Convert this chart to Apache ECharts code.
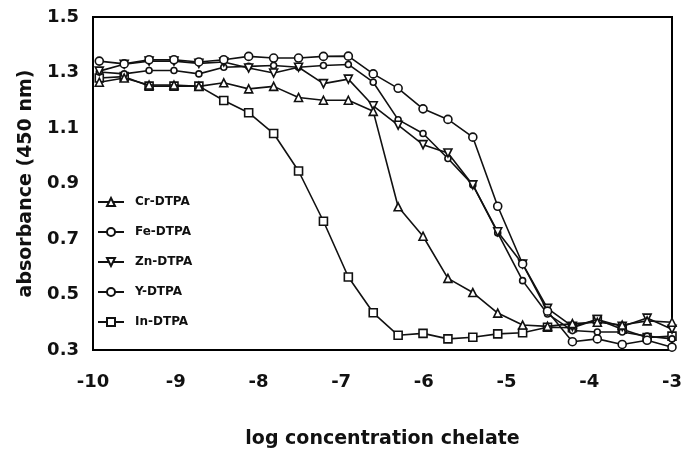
<!DOCTYPE html>
<html>
<head>
<meta charset="utf-8">
<script src="https://cdn.jsdelivr.net/npm/echarts@6/dist/echarts.min.js"></script>
<style>
html,body{margin:0;padding:0;background:#fff;}
#chart{width:683px;height:451px;}
</style>
</head>
<body>
<div id="chart"></div>
<script>
// log concentration (two-fold dilutions from 1 mM)
var logConc = [-9.924, -9.623, -9.322, -9.021, -8.720, -8.419, -8.118, -7.816, -7.515, -7.214, -6.913, -6.612, -6.311, -6.010, -5.709, -5.408, -5.107, -4.806, -4.505, -4.204, -3.903, -3.602, -3.301, -3.000];
var crDTPA = [1.265, 1.28, 1.255, 1.255, 1.25, 1.263, 1.241, 1.25, 1.21, 1.2, 1.2, 1.16, 0.816, 0.71, 0.558, 0.507, 0.433, 0.39, 0.385, 0.395, 0.40, 0.39, 0.405, 0.40];
var feDTPA = [1.341, 1.331, 1.346, 1.346, 1.338, 1.346, 1.358, 1.352, 1.352, 1.358, 1.359, 1.295, 1.243, 1.169, 1.131, 1.067, 0.818, 0.61, 0.44, 0.33, 0.34, 0.32, 0.335, 0.31];
var znDTPA = [1.305, 1.33, 1.341, 1.341, 1.333, 1.338, 1.316, 1.298, 1.319, 1.26, 1.276, 1.18, 1.11, 1.04, 1.01, 0.895, 0.726, 0.61, 0.45, 0.385, 0.41, 0.385, 0.415, 0.375];
var yDTPA = [1.302, 1.295, 1.307, 1.307, 1.295, 1.319, 1.322, 1.325, 1.319, 1.325, 1.329, 1.265, 1.13, 1.08, 0.99, 0.895, 0.722, 0.55, 0.43, 0.37, 0.365, 0.365, 0.35, 0.34];
var inDTPA = [1.28, 1.285, 1.251, 1.251, 1.251, 1.199, 1.155, 1.08, 0.945, 0.764, 0.563, 0.434, 0.353, 0.36, 0.34, 0.346, 0.358, 0.362, 0.382, 0.38, 0.41, 0.375, 0.345, 0.35];
var seriesNames = ['Cr-DTPA', 'Fe-DTPA', 'Zn-DTPA', 'Y-DTPA', 'In-DTPA'];
var xTicks = [-10, -9, -8, -7, -6, -5, -4, -3];
var yTicks = [0.3, 0.5, 0.7, 0.9, 1.1, 1.3, 1.5];

function pairs(vals){ return vals.map(function(v,i){ return [logConc[i], v]; }); }
var FONT = '"DejaVu Sans", Verdana, sans-serif';
var symbols = ['triangle', 'circle', 'triangle', 'circle', 'rect'];
var rot = [0, 0, 180, 0, 0];
var sizes = [8, 8, 8, 6, 8];
var all = [crDTPA, feDTPA, znDTPA, yDTPA, inDTPA];

var chart = echarts.init(document.getElementById('chart'), null, {renderer:'canvas'});
chart.setOption({
  backgroundColor: '#fff',
  animation: false,
  grid: {left: 93, right: 11, top: 17, bottom: 101, outerBoundsMode: 'none', containLabel: false,
         show: true, borderColor: '#000', borderWidth: 2, backgroundColor: 'transparent'},
  legend: {
    orient: 'vertical', left: 97, top: 196, padding: 0, itemGap: 18, itemWidth: 26, itemHeight: 10,
    data: seriesNames,
    textStyle: {fontFamily: FONT, fontWeight: 'bold', fontSize: 12, color: '#111', padding: [0,0,0,6]}
  },
  xAxis: {
    type: 'value', min: -10, max: -3, interval: 1,
    axisLine: {show: false}, axisTick: {show: false}, splitLine: {show: false},
    axisLabel: {margin: 23, fontFamily: FONT, fontWeight: 'bold', fontSize: 18, color: '#111',
      formatter: function(v){ return xTicks.indexOf(Math.round(v)) >= 0 ? String(Math.round(v)) : ''; }},
    name: 'log concentration chelate', nameLocation: 'middle', nameGap: 80,
    nameTextStyle: {fontFamily: FONT, fontWeight: 'bold', fontSize: 19, color: '#111'}
  },
  yAxis: {
    type: 'value', min: 0.3, max: 1.5, interval: 0.1,
    axisLine: {show: false}, axisTick: {show: false}, splitLine: {show: false},
    axisLabel: {margin: 14, fontFamily: FONT, fontWeight: 'bold', fontSize: 18, color: '#111',
      formatter: function(v){
        var r = Math.round(v*10)/10;
        for (var i=0;i<yTicks.length;i++){ if (Math.abs(yTicks[i]-r) < 1e-6) return r.toFixed(1); }
        return '';
      }},
    name: 'absorbance (450 nm)', nameLocation: 'middle', nameGap: 57, nameRotate: 90,
    nameTextStyle: {fontFamily: FONT, fontWeight: 'bold', fontSize: 19, color: '#111'}
  },
  series: all.map(function(vals, k){
    return {
      name: seriesNames[k], type: 'line', data: pairs(vals),
      symbol: symbols[k], symbolSize: sizes[k], symbolRotate: rot[k], showAllSymbol: true,
      clip: false,
      lineStyle: {color: '#111', width: 1.6},
      itemStyle: {color: '#fff', borderColor: '#111', borderWidth: 1.6},
      z: 5 - k
    };
  })
});
</script>
</body>
</html>
